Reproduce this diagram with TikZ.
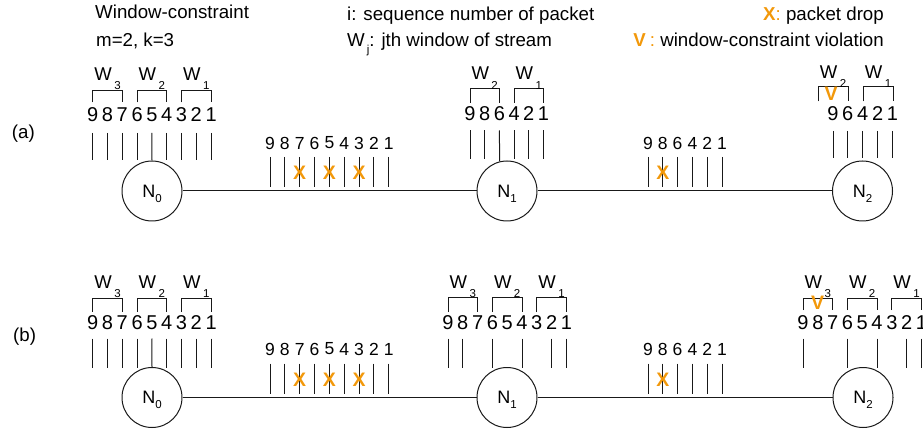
\documentclass[tikz,border=0pt]{standalone}
\usepackage{fontspec}
\setmainfont{Liberation Sans}
\definecolor{drop}{RGB}{242,152,10}
\definecolor{ink}{RGB}{25,25,25}
\tikzset{
  wire/.style={line width=1pt, draw=ink},
  router/.style={circle, draw=ink, line width=1pt, minimum size=60pt,
    inner sep=0pt, font=\fontsize{18}{18}\selectfont},
  seqnum/.style={inner sep=0pt, font=\fontsize{20}{20}\selectfont},
  linknum/.style={inner sep=0pt, font=\fontsize{17.5}{17.5}\selectfont},
  wlabel/.style={inner sep=0pt, anchor=base, font=\fontsize{18.5}{18.5}\selectfont},
  dropmark/.style={inner sep=0pt, text=drop, font=\fontsize{19.5}{19.5}\selectfont\bfseries},
  caption/.style={inner sep=0pt, anchor=base west, font=\fontsize{18.7}{18.7}\selectfont},
}
% lowered small subscript (no effect on the line height)
\newcommand{\lowsub}[2][9.5pt]{\smash{\raisebox{-#1}{\fontsize{11.5}{11.5}\selectfont #2}}}
% row of packets: name prefix, style, digit y, tick top, tick bottom, list x/digit/tick
\newcommand{\pkts}[6]{%
  \foreach \x/\d/\t [count=\i] in {#6} {
    \node[#2] (#1\i) at (\x,#3) {\d};
    \ifnum\t=1 \draw[wire] (\x,#4) -- (\x,#5);\fi
  }}
% window bracket: name, left x, right x, top y, bottom y, label base y, index
\newcommand{\window}[7]{%
  \draw[wire] (#2,#5) |- (#3,#4) -- (#3,#5);
  \node[wlabel] (#1) at ({(#2+#3)/2},#6) {W\hspace{2.5pt}\lowsub{#7}};}

\begin{document}
\begin{tikzpicture}[x=1pt,y=-1pt]
\useasboundingbox (0,0) rectangle (923,430);
\clip (0,0) rectangle (923,430);

% legend
\node[caption] (title) at (95,19) {Window-constraint};
\node[caption] (param) at (96,46.5) {m=2, k=3};
\node[caption] (legseq) at (347,20.5) {i: sequence number of packet};
\node[caption] (legwin) at (347,47) {W\hspace{2pt}\lowsub[7pt]{j}: jth window of stream};
\node[caption,anchor=base east] (legdrop) at (884,20.5) {\textcolor{drop}{\textbf{X}:} packet drop};
\node[caption,anchor=base east] (legviol) at (884,47) {\textcolor{drop}{\textbf{V}\hspace{4pt}:} window-constraint violation};

\node[caption,anchor=west] (pa) at (11.7,133.5) {(a)};
\node[caption,anchor=west] (pb) at (13,336.5) {(b)};

% ---------------- (a) ----------------
\node[router] (A0) at (152,191) {N\lowsub[5pt]{0}};
\node[router] (A1) at (507,191) {N\lowsub[5pt]{1}};
\node[router] (A2) at (862.5,191) {N\lowsub[5pt]{2}};
\draw[wire] (A0) -- (A1);
\draw[wire] (A1) -- (A2);

% stream at N0
\pkts{as}{seqnum}{115}{133}{160}{92.7/9/1,107.5/8/1,122.3/7/1,137.1/6/1,151.9/5/0,166.7/4/1,181.5/3/1,196.3/2/1,211.1/1/1}
\draw[wire] (151.9,133) -- (A0.north);
\window{aw3}{92.7}{122.3}{90.5}{102.5}{80.5}{3}
\window{aw2}{137.1}{166.7}{90.5}{102.5}{80.5}{2}
\window{aw1}{181.5}{211.1}{90.5}{102.5}{80.5}{1}

% on the link N0 - N1
\pkts{al}{linknum}{143}{157}{187}{270/9/1,284.8/8/1,299.7/7/1,314.5/6/1,329.4/5/1,344.2/4/1,359.1/3/1,373.9/2/1,388.8/1/1}
\node[dropmark] (ax1) at (299.7,173) {X};
\node[dropmark] (ax2) at (329.4,173) {X};
\node[dropmark] (ax3) at (359.1,173) {X};

% stream at N1
\pkts{bs}{seqnum}{114}{130.5}{159.5}{470/9/1,484.7/8/1,499.4/6/0,514.1/4/1,528.8/2/1,543.5/1/1}
\draw[wire] (499.4,130.5) -- (A1.104.7);
\window{bw2}{470}{499.4}{88.5}{103}{80}{2}
\window{bw1}{514.1}{543.5}{88.5}{103}{80}{1}

% on the link N1 - N2
\pkts{bl}{linknum}{143}{157}{187}{648/9/1,662.8/8/1,677.6/6/1,692.4/4/1,707.2/2/1,722/1/1}
\node[dropmark] (bx1) at (662.8,173) {X};

% stream at N2
\pkts{cs}{seqnum}{113.5}{131}{158}{833/9/1,847.7/6/1,862.7/4/1,877.7/2/1,892.3/1/1}
\window{cw2}{818}{848}{87}{101.5}{78.5}{2}
\window{cw1}{863}{893}{87}{101.5}{78.5}{1}
\node[dropmark] (cv1) at (831,94) {V};

% ---------------- (b) ----------------
\node[router] (B0) at (152,397.5) {N\lowsub[5pt]{0}};
\node[router] (B1) at (507,397.5) {N\lowsub[5pt]{1}};
\node[router] (B2) at (863,397.5) {N\lowsub[5pt]{2}};
\draw[wire] (B0) -- (B1);
\draw[wire] (B1) -- (B2);

% stream at N0
\pkts{ds}{seqnum}{323}{338.5}{368}{92.7/9/1,107.5/8/1,122.3/7/1,137.1/6/1,151.9/5/0,166.7/4/1,181.5/3/1,196.3/2/1,211.1/1/1}
\draw[wire] (151.9,338.5) -- (B0.north);
\window{dw3}{92.7}{122.3}{298}{311.5}{288}{3}
\window{dw2}{137.1}{166.7}{298}{311.5}{288}{2}
\window{dw1}{181.5}{211.1}{298}{311.5}{288}{1}

% on the link N0 - N1
\pkts{dl}{linknum}{349}{363.5}{393.5}{270/9/1,284.8/8/1,299.7/7/1,314.5/6/1,329.4/5/1,344.2/4/1,359.1/3/1,373.9/2/1,388.8/1/1}
\node[dropmark] (dx1) at (299.7,380) {X};
\node[dropmark] (dx2) at (329.4,380) {X};
\node[dropmark] (dx3) at (359.1,380) {X};

% stream at N1
\pkts{es}{seqnum}{323}{338.5}{368}{448/9/1,462.8/8/1,477.6/7/0,492.4/6/1,507.2/5/0,522/4/1,536.8/3/0,551.6/2/1,566.4/1/1}
\window{ew3}{448}{477.6}{297}{312}{288}{3}
\window{ew2}{492.4}{522}{297}{312}{288}{2}
\window{ew1}{536.8}{566.4}{297}{312}{288}{1}

% on the link N1 - N2
\pkts{el}{linknum}{349}{363.5}{393.5}{648/9/1,662.8/8/1,677.6/6/1,692.4/4/1,707.2/2/1,722/1/1}
\node[dropmark] (ex1) at (662.8,380) {X};

% stream at N2
\pkts{fs}{seqnum}{323}{338.5}{368}{803/9/1,817.8/8/0,832.6/7/0,847.4/6/1,862.2/5/0,877/4/1,891.8/3/0,906.6/2/1,921.4/1/1}
\window{fw3}{803}{832.6}{298}{310}{288}{3}
\window{fw2}{847.4}{877}{298}{310}{288}{2}
\window{fw1}{891.8}{921.4}{298}{310}{288}{1}
\node[dropmark] (fv1) at (817.5,302.5) {V};
\end{tikzpicture}
\end{document}
